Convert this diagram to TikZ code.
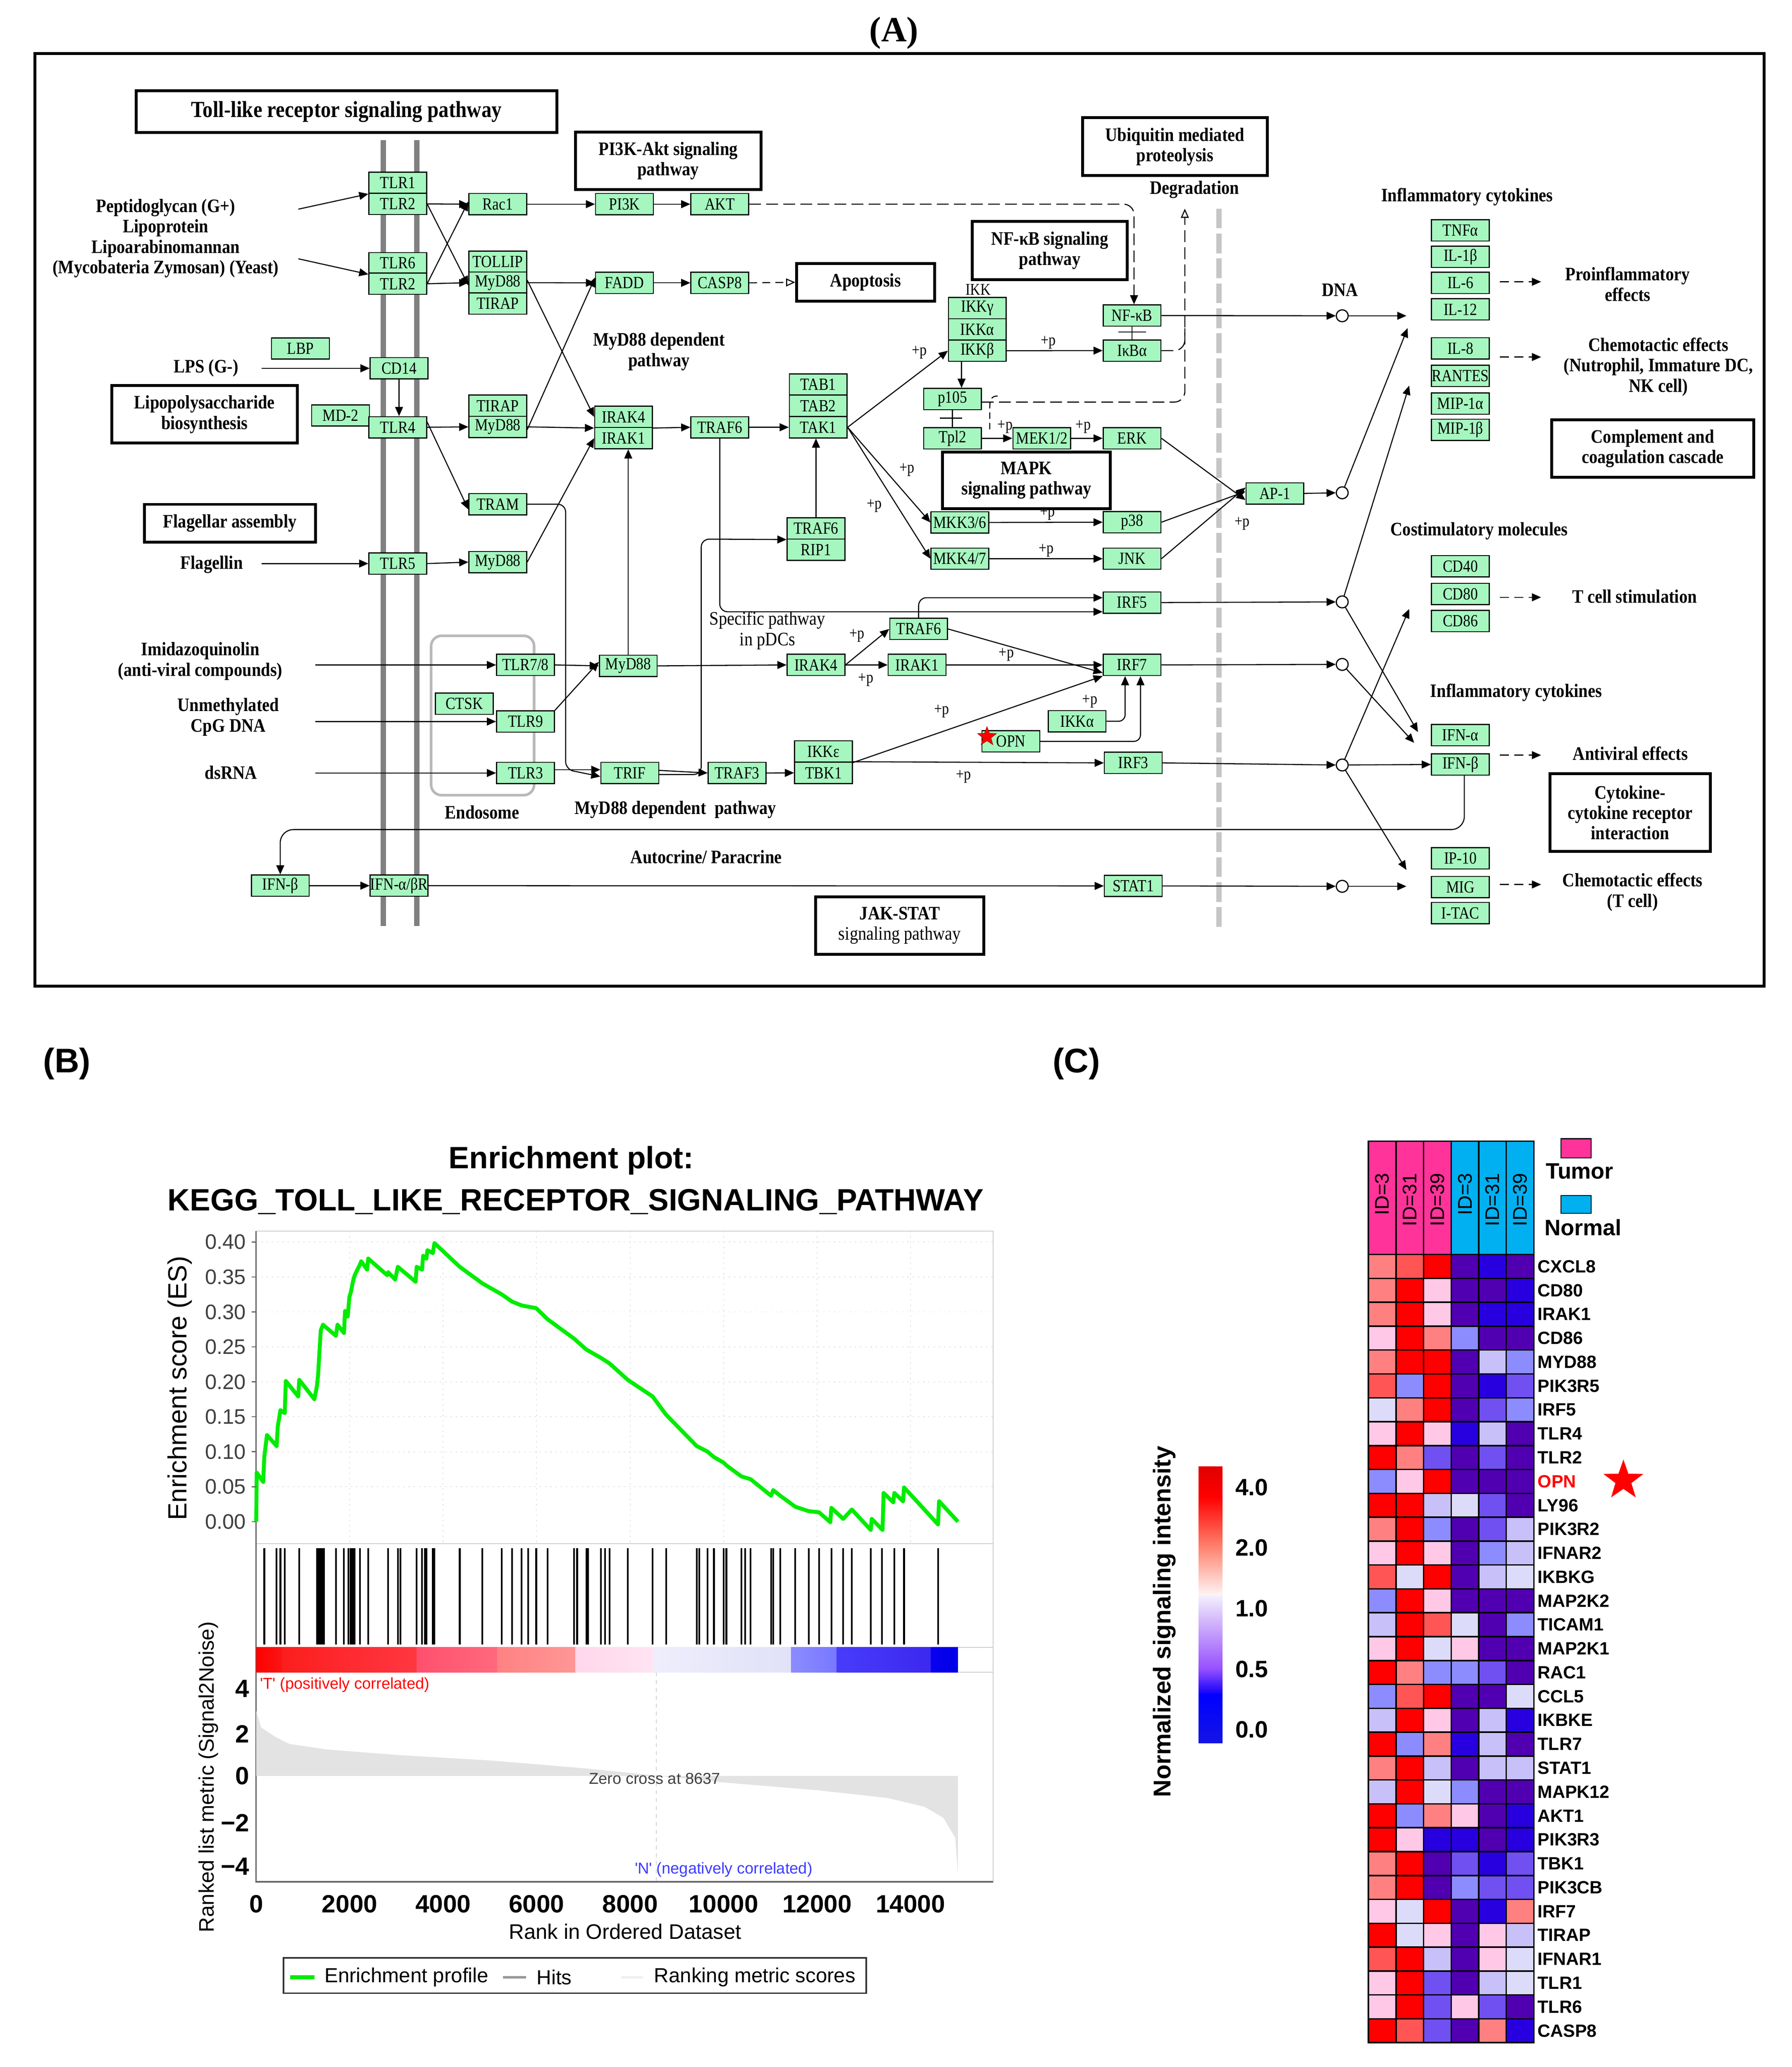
\documentclass[tikz,border=0pt]{standalone}
\usepackage{fontspec}
\setmainfont{Liberation Serif}
\newfontfamily\keggfont[FakeStretch=0.86]{Liberation Serif}
\newfontfamily\lblfont[FakeStretch=0.88]{Liberation Serif}
\newfontfamily\plotfont{Liberation Sans}
\usetikzlibrary{arrows.meta,shapes.geometric}

\definecolor{keggGreen}{RGB}{166,247,191}
\definecolor{esGreen}{RGB}{0,236,0}
\definecolor{tumorPink}{RGB}{255,51,153}
\definecolor{normalCyan}{RGB}{0,176,240}
\definecolor{hmr}{RGB}{255,0,0}
\definecolor{hms}{RGB}{255,85,85}
\definecolor{hmo}{RGB}{255,128,128}
\definecolor{hmp}{RGB}{255,200,230}
\definecolor{hmw}{RGB}{220,220,250}
\definecolor{hml}{RGB}{200,192,248}
\definecolor{hmb}{RGB}{140,140,255}
\definecolor{hmv}{RGB}{112,80,240}
\definecolor{hmd}{RGB}{80,0,176}
\definecolor{hmu}{RGB}{40,0,224}

\tikzset{every picture/.style={line width=0.8pt}}
\tikzset{
	gene/.style={draw=black, fill=keggGreen, line width=0.8pt, minimum width=44pt, minimum height=16.2pt, inner sep=0pt, font=\keggfont\fontsize{13}{13}\selectfont},
	mapbox/.style={draw=black, line width=2.2pt, align=center, inner sep=0pt, font=\lblfont\bfseries\fontsize{14.5}{15.5}\selectfont},
	lbl/.style={align=center, inner sep=0pt, font=\lblfont\bfseries\fontsize{14.5}{15.6}\selectfont},
	plbl/.style={inner sep=0pt, font=\keggfont\fontsize{12.5}{13}\selectfont},
	act/.style={-{Triangle[length=7pt,width=6pt]}},
	hollow/.style={-{Triangle[open,length=7pt,width=6pt]}},
	dna/.style={circle, draw=black, fill=white, line width=0.9pt, minimum size=9pt, inner sep=0pt},
	effect/.style={act, dash pattern=on 7pt off 4pt},
	degr/.style={dash pattern=on 9pt off 4pt, rounded corners=8pt},
	esnum/.style={inner sep=0pt, text=black!75, font=\plotfont\fontsize{16}{16}\selectfont},
	bignum/.style={inner sep=0pt, font=\plotfont\bfseries\fontsize{19}{19}\selectfont},
	tiny/.style={inner sep=0pt, font=\plotfont\fontsize{12}{12}\selectfont},
	glabel/.style={inner sep=0pt, anchor=west, font=\plotfont\bfseries\fontsize{13.5}{14}\selectfont},
}

\begin{document}
\begin{tikzpicture}[x=1pt,y=1pt,yscale=-1,xscale=1]
	\useasboundingbox (0,0) rectangle (1365,1574.2);
	
	%Panel A
	\node[inner sep=0pt, font=\bfseries\fontsize{27}{27}\selectfont] (labA) at (681,25.3) {(A)};
	\draw[line width=2.2pt] (26.6,40.9) rectangle (1344,751);
	\draw[gray, line width=4pt] (292,106.8) -- (292,705.2);
	\draw[gray, line width=4pt] (317.5,106.8) -- (317.5,705.2);
	\draw[gray!45, line width=4pt, dash pattern=on 15pt off 4pt] (928.7,158.9) -- (928.7,706.4);
	\draw[gray!55, line width=2pt, rounded corners=8pt] (328.4,484.2) rectangle (406.9,605.6);
	
	%map boxes
	\node[mapbox, minimum width=320.6pt, minimum height=31.9pt, font=\lblfont\bfseries\fontsize{17.5}{19}\selectfont] (tlrbox) at (263.9,85) {Toll-like receptor signaling pathway};
	\node[mapbox, minimum width=141.3pt, minimum height=43.8pt] (pi3kbox) at (509,122.4) {PI3K-Akt signaling\\pathway};
	\node[mapbox, minimum width=104.9pt, minimum height=28.5pt] (apopbox) at (659.4,215) {Apoptosis};
	\node[mapbox, minimum width=117.8pt, minimum height=44.3pt] (nfkbbox) at (799.7,190.7) {NF-κB signaling\\pathway};
	\node[mapbox, minimum width=140.8pt, minimum height=44pt] (ubqbox) at (895,111.7) {Ubiquitin mediated\\proteolysis};
	\node[mapbox, minimum width=127.7pt, minimum height=43.2pt] (mapkbox) at (781.9,365.8) {MAPK\\signaling pathway};
	\node[mapbox, minimum width=141.2pt, minimum height=43.8pt] (lpsbox) at (155.8,315.6) {Lipopolysaccharide\\biosynthesis};
	\node[mapbox, minimum width=130.1pt, minimum height=28.8pt] (flagbox) at (175.2,398.5) {Flagellar assembly};
	\node[mapbox, minimum width=154.1pt, minimum height=43.6pt] (compbox) at (1259,341.6) {Complement and\\coagulation cascade};
	\node[mapbox, minimum width=122.2pt, minimum height=59.3pt] (cytobox) at (1241.8,618.9) {Cytokine-\\cytokine receptor\\interaction};
	\node[mapbox, minimum width=128.4pt, minimum height=43.9pt] (jakbox) at (685.4,704.9) {JAK-STAT\\{\mdseries signaling pathway}};
	
	%text labels
	\node[lbl] (pgtxt) at (126.2,181.5) {Peptidoglycan (G+)\\Lipoprotein\\Lipoarabinomannan\\(Mycobateria Zymosan) (Yeast)};
	\node[lbl] (lpstxt) at (157,280.2) {LPS (G-)};
	\node[lbl] (fltxt) at (161.3,429.8) {Flagellin};
	\node[lbl] (iqtxt) at (152.6,503.6) {Imidazoquinolin\\(anti-viral compounds)};
	\node[lbl] (cpgtxt) at (173.9,546.1) {Unmethylated\\CpG DNA};
	\node[lbl] (rnatxt) at (176,588.2) {dsRNA};
	\node[lbl] (endotxt) at (367.3,618.5) {Endosome};
	\node[lbl] (myd88txt) at (502,267.8) {MyD88 dependent\\pathway};
	\node[lbl] (myd88txt2) at (514.5,616.5) {MyD88 dependent \ pathway};
	\node[lbl, font=\lblfont\fontsize{14.5}{15.6}\selectfont] (pdctxt) at (584.6,480.2) {Specific pathway\\in pDCs};
	\node[lbl] (autotxt) at (538,652.5) {Autocrine/ Paracrine};
	\node[lbl] (degtxt) at (910,144.3) {Degradation};
	\node[lbl] (dnatxt) at (1020.7,220.7) {DNA};
	\node[lbl] (inftxt) at (1117.6,149.9) {Inflammatory cytokines};
	\node[lbl] (protxt) at (1239.9,216.4) {Proinflammatory\\effects};
	\node[lbl] (chemtxt) at (1263.4,279.4) {Chemotactic effects\\(Nutrophil, Immature DC,\\NK cell)};
	\node[lbl] (costxt) at (1126.8,404.5) {Costimulatory molecules};
	\node[lbl] (tcelltxt) at (1245.2,454.4) {T cell stimulation};
	\node[lbl] (inftxt2) at (1155,527.5) {Inflammatory cytokines};
	\node[lbl] (antitxt) at (1242,573.9) {Antiviral effects};
	\node[lbl] (chemtxt2) at (1243.7,679.5) {Chemotactic effects\\(T cell)};
	\node[plbl] (ikktxt) at (745.2,220.7) {IKK};
	
	%gene products
	\node[gene] (tlr1) at (303,139.2) {TLR1};
	\node[gene] (tlr2a) at (303,155.3) {TLR2};
	\node[gene] (tlr6) at (303,200.4) {TLR6};
	\node[gene] (tlr2b) at (303,216.1) {TLR2};
	\node[gene] (lbp) at (228.9,265.4) {LBP};
	\node[gene] (cd14) at (304,280.5) {CD14};
	\node[gene] (md2) at (259.4,316.4) {MD-2};
	\node[gene] (tlr4) at (303,325.4) {TLR4};
	\node[gene] (tlr5) at (303,429.2) {TLR5};
	\node[gene] (rac1) at (379.2,155.5) {Rac1};
	\node[gene] (tollip) at (379.2,199.4) {TOLLIP};
	\node[gene] (myd88a) at (379.2,215.3) {MyD88};
	\node[gene] (tirapa) at (379.2,231.2) {TIRAP};
	\node[gene] (tirapb) at (379.2,309.0) {TIRAP};
	\node[gene] (myd88b) at (379.2,325.1) {MyD88};
	\node[gene] (tram) at (379.2,384.0) {TRAM};
	\node[gene] (myd88c) at (379.2,428.1) {MyD88};
	\node[gene] (ctsk) at (353.7,536.0) {CTSK};
	\node[gene] (tlr78) at (400.3,506.4) {TLR7/8};
	\node[gene] (tlr9) at (400.3,549.5) {TLR9};
	\node[gene] (tlr3) at (400.3,588.7) {TLR3};
	\node[gene] (pi3k) at (475.7,155.5) {PI3K};
	\node[gene] (akt) at (548.3,155.5) {AKT};
	\node[gene] (fadd) at (475.7,215.4) {FADD};
	\node[gene] (casp8) at (548.3,215.4) {CASP8};
	\node[gene] (irak4) at (475,317.5) {IRAK4};
	\node[gene] (irak1) at (475,333.7) {IRAK1};
	\node[gene] (traf6a) at (548.3,325.4) {TRAF6};
	\node[gene] (tab1) at (623.3,292.8) {TAB1};
	\node[gene] (tab2) at (623.3,309.1) {TAB2};
	\node[gene] (tak1) at (623.3,325.4) {TAK1};
	\node[gene] (ikkg) at (744.5,234.7) {IKKγ};
	\node[gene] (ikka) at (744.5,250.9) {IKKα};
	\node[gene] (ikkb) at (744.5,267.1) {IKKβ};
	\node[gene] (nfkb) at (862.4,240.3) {NF-κB};
	\node[gene] (ikba) at (862.4,267.0) {IκBα};
	\node[gene] (p105) at (725.6,303.9) {p105};
	\node[gene] (tpl2) at (725.6,333.8) {Tpl2};
	\node[gene] (mek) at (793.6,333.8) {MEK1/2};
	\node[gene] (erk) at (862.4,333.8) {ERK};
	\node[gene] (mkk36) at (731.2,397.9) {MKK3/6};
	\node[gene] (p38) at (862.4,397.7) {p38};
	\node[gene] (mkk47) at (731.2,425.5) {MKK4/7};
	\node[gene] (jnk) at (862.4,425.5) {JNK};
	\node[gene] (ap1) at (971.2,375.8) {AP-1};
	\node[gene] (traf6b) at (621.6,402.4) {TRAF6};
	\node[gene] (rip1) at (621.6,418.7) {RIP1};
	\node[gene] (irf5) at (862.4,458.9) {IRF5};
	\node[gene] (myd88d) at (478.6,507.1) {MyD88};
	\node[gene] (irak4b) at (621.6,506.4) {IRAK4};
	\node[gene] (traf6c) at (699.8,479.0) {TRAF6};
	\node[gene] (irak1b) at (698.6,506.4) {IRAK1};
	\node[gene] (irf7) at (862.4,506.4) {IRF7};
	\node[gene] (ikka2) at (820.5,549.3) {IKKα};
	\node[gene] (opn) at (770.1,564.6) {OPN};
	\node[star, star points=5, star point ratio=2.4, fill=red, draw=red!70!black, line width=0.4pt, minimum size=15pt, inner sep=0pt] (opnstarA) at (751.9,561) {};
	\node[gene] (trif) at (479.8,588.7) {TRIF};
	\node[gene] (traf3) at (561.5,588.7) {TRAF3};
	\node[gene] (ikke) at (627.3,572.3) {IKKε};
	\node[gene] (tbk1) at (627.3,588.6) {TBK1};
	\node[gene] (irf3) at (863.3,581.0) {IRF3};
	\node[gene] (ifnb1) at (213.5,674.5) {IFN-β};
	\node[gene] (ifnr) at (304,674.5) {IFN-α/βR};
	\node[gene] (stat1) at (863.3,674.7) {STAT1};
	\foreach \nm/\yy/\txt in {tnfa/175.5/TNFα, il1b/195.6/IL-1β, il6/215.4/IL-6, il12/235.6/IL-12, il8/265.3/IL-8, rantes/286.2/RANTES, mip1a/307.4/MIP-1α, mip1b/327.3/MIP-1β, cd40/431.2/CD40, cd80/452.3/CD80, cd86/472.9/CD86, ifna/559.9/IFN-α, ifnb2/582.2/IFN-β, ip10/653.7/IP-10, mig/675.5/MIG, itac/695.4/I-TAC}
		\node[gene] (\nm) at (1112.5,\yy) {\txt};
	
	\node[dna] (dna1) at (1022.5,240.5) {};
	\node[dna] (dna2) at (1022.5,375.3) {};
	\node[dna] (dna3) at (1022.5,458.4) {};
	\node[dna] (dna4) at (1022.5,506.0) {};
	\node[dna] (dna5) at (1022.5,582.6) {};
	\node[dna] (dna6) at (1022.5,675.0) {};
	
	\foreach \px/\py [count=\i] in {700.4/268.3, 798.5/260.7, 765.7/325.1, 825.2/325.1, 691/357.7, 666.1/385.2, 797.9/391.1, 797/419.2, 652.9/484.2, 766.6/498.5, 659.6/517.7, 830.2/534.1, 717.3/541.8, 734.1/591.5, 946.3/398.8}
		\node[plbl] (plusp\i) at (\px,\py) {+p};
	
	%free ends
	\coordinate (inPG) at (227.3,159.3);
	\coordinate (inZY) at (227.3,197.1);
	\coordinate (inLPS) at (199.2,280.5);
	\coordinate (inFL) at (199.2,429.2);
	\coordinate (inIQ) at (240.2,506.4);
	\coordinate (inCPG) at (240.2,549.5);
	\coordinate (inRNA) at (240.2,588.7);
	\coordinate (degtip) at (902.6,158.9);
	\coordinate (ikkbS) at ([xshift=-12pt]ikkb.south);
	\coordinate (cyA) at (1071.4,240.5);
	\coordinate (cyB) at (1072.3,249.9);
	\coordinate (cyC) at (1073.5,293.7);
	\coordinate (cyD) at (1073.5,463.8);
	\coordinate (cyE) at (1080.2,557.5);
	\coordinate (cyF) at (1077.3,565.7);
	\coordinate (cyG) at (1071.4,662.5);
	\coordinate (cyH) at (1071.4,675.0);
	
	%connectors
	\draw[act] (inPG) -- (tlr1.south west);
	\draw[act] (inZY) -- (tlr6.south west);
	\draw[act] (inLPS) -- (cd14.west);
	\draw[act] (inFL) -- (tlr5.west);
	\draw[act] (inIQ) -- (tlr78.west);
	\draw[act] (inCPG) -- (tlr9.west);
	\draw[act] (inRNA) -- (tlr3.west);
	\draw[act] (cd14.south) -- (cd14.south |- tlr4.north);
	\draw[act] (tlr2a.east) -- (rac1.west);
	\draw[act] (tlr2a.east) -- ([yshift=2pt]myd88a.west);
	\draw[act] (tlr2b.east) -- ([yshift=-2pt]rac1.west);
	\draw[act] (tlr2b.east) -- (myd88a.west);
	\draw[act] (rac1.east) -- (pi3k.west);
	\draw[act] (pi3k.east) -- (akt.west);
	\draw[act] (myd88a.east) -- (fadd.west);
	\draw[act] (fadd.east) -- (casp8.west);
	\draw[hollow, dash pattern=on 6pt off 4pt] (casp8.east) -- (apopbox.west);
	\draw[act, dash pattern=on 9pt off 4pt, rounded corners=8pt] (akt.east) -| ([xshift=1.5pt]nfkb.north);
	\draw[act] ([yshift=-2pt]myd88a.east) -- (irak4.west);
	\draw[act] (tlr4.east) -- (myd88b.west);
	\draw[act] ([yshift=-4pt]tlr4.east) -- ([yshift=4pt]tram.west);
	\draw[act] (myd88b.east) -- (irak4.south west);
	\draw[act] ([yshift=2.2pt]myd88b.east) -- ([yshift=-4pt]fadd.west);
	\draw[act] (tlr5.east) -- (myd88c.west);
	\draw[act] (myd88c.east) -- (irak1.west);
	\draw[act, rounded corners=6pt] (tram.east) -| (430.9,586) -- ([yshift=2.7pt]trif.west);
	\draw[act] (irak4.south east) -- (traf6a.west);
	\draw[act] (traf6a.east) -- (tak1.west);
	\draw[act] (tak1.east) -- (ikkb.west);
	\draw[act] (tak1.east) -- (mkk36.west);
	\draw[act] (tak1.east) -- (mkk47.west);
	\draw[act] (ikkbS) -- (ikkbS |- p105.north);
	\draw[act] (ikkb.east) -- (ikba.west);
	\draw (nfkb.south) -- (ikba.north);
	\draw (852,252.8) -- (873,252.8);
	\draw (p105.south) -- (tpl2.north);
	\draw (716,318.4) -- (733,318.4);
	\draw[act] (tpl2.east) -- (mek.west);
	\draw[act] (mek.east) -- (erk.west);
	\draw[act] (mkk36.east) -- (p38.west);
	\draw[act] (mkk47.east) -- (jnk.west);
	\draw[act] (erk.east) -- ([yshift=5pt]ap1.west);
	\draw[act] (p38.east) -- ([yshift=-1.5pt]ap1.west);
	\draw[act] (jnk.east) -- ([yshift=-4.5pt]ap1.west);
	\draw[hollow, degr] ([yshift=2.3pt]p105.east) -| (degtip);
	\draw[degr] (ikba.east) -| (902.6,250);
	\draw[dash pattern=on 5pt off 3pt] (760,301.6) .. controls (754,301.6) and (754,306) .. (754,312) -- (754,328);
	\draw[act] (nfkb.east) -- (dna1.west);
	\draw[act] (dna1) -- (cyA);
	\draw[act] (ap1.east) -- (dna2.west);
	\draw[act] (dna2) -- (cyB);
	\draw[act, rounded corners=6pt] (traf6a.south) |- ([yshift=7pt]irf5.west);
	\draw[act, rounded corners=6pt] (traf6c.north) |- ([yshift=-3.7pt]irf5.west);
	\draw[act, rounded corners=6pt] ([yshift=1.2pt]trif.east) -| (534.2,410.6) -- (traf6b.south west);
	\draw[act] ([yshift=-2pt]trif.east) -- (traf3.west);
	\draw[act] (traf3.east) -- (tbk1.west);
	\draw[act] (traf6b.north) -- (traf6b.north |- tak1.south);
	\draw[act] (tlr78.east) -- (myd88d.west);
	\draw[act] (tlr9.north east) -- ([yshift=-3pt]myd88d.west);
	\draw[act] ([yshift=-2.5pt]tlr3.east) -- ([yshift=-2.5pt]trif.west);
	\draw[act] (myd88d.north) -- (myd88d.north |- irak1.south);
	\draw[act] (myd88d.east) -- (irak4b.west);
	\draw[act] (irak4b.east) -- (traf6c.west);
	\draw[act] (irak4b.east) -- (irak1b.west);
	\draw[act] (irak1b.east) -- (irf7.west);
	\draw[act] (traf6c.east) -- ([yshift=6pt]irf7.west);
	\draw[act] (ikke.south east) -- (irf7.south west);
	\draw[act] (tbk1.north east) -- (irf3.west);
	\draw[act, rounded corners=5pt] (ikka2.east) -| ([xshift=-5.3pt]irf7.south);
	\draw[act, rounded corners=5pt] (opn.east) -| ([xshift=6.4pt]irf7.south);
	\draw[act] (irf5.east) -- (dna3.west);
	\draw[act] (irf7.east) -- (dna4.west);
	\draw[act] (irf3.east) -- (dna5.west);
	\draw[act] (stat1.east) -- (dna6.west);
	\draw[act] (dna3) -- (cyC);
	\draw[act] (dna3) -- (cyE);
	\draw[act] (dna4) -- (cyF);
	\draw[act] (dna5) -- (cyD);
	\draw[act] (dna5) -- (ifnb2.west);
	\draw[act] (dna5) -- (cyG);
	\draw[act] (dna6) -- (cyH);
	\draw[act, rounded corners=10pt] ([xshift=3pt]ifnb2.south) |- (213.5,631.8) -- (ifnb1.north);
	\draw[act] (ifnb1.east) -- (ifnr.west);
	\draw[act] (ifnr.east) -- (stat1.west);
	\foreach \ey in {214.6,271.9,454.9,575.1,673.6}
		\draw[effect] (1142.6,\ey) -- (1174,\ey);
	
	%Panel B
	\node[inner sep=0pt, font=\plotfont\bfseries\fontsize{26}{26}\selectfont] (labB) at (51,810) {(B)};
	\begin{scope}[shift={(116.4,857.7)},xscale=0.41026,yscale=0.42002]
		\node[inner sep=0pt, font=\plotfont\bfseries\fontsize{23.5}{24}\selectfont] (esTitle1) at (777,62) {Enrichment plot:};
		\node[inner sep=0pt, font=\plotfont\bfseries\fontsize{23.5}{24}\selectfont] (esTitle2) at (785,137) {KEGG\_TOLL\_LIKE\_RECEPTOR\_SIGNALING\_PATHWAY};
		\foreach \v in {1,...,8}
			\draw[gray!25, line width=0.6pt, dash pattern=on 1pt off 3pt] (192,{717-63.375*\v}) -- (1560,{717-63.375*\v});
		\foreach \k in {1,...,7}
			\draw[gray!25, line width=0.6pt, dash pattern=on 1pt off 3pt] ({192+173.57*\k},190) -- ({192+173.57*\k},757);
		\draw[gray!40, line width=0.6pt] (192,190) rectangle (1560,1370);
		\draw[gray!40, line width=0.6pt] (192,757) -- (1560,757);
		\draw[gray!40, line width=0.6pt] (192,945) -- (1560,945);
		\draw[gray!40, line width=0.6pt] (192,990) -- (1560,990);
		\draw[black!60, line width=1pt] (192,190) -- (192,1370) -- (1560,1370);
		%ranked metric
		\fill[gray!22] (192,1178) -- (192,1060) -- (201,1090) -- (227,1107) -- (253,1120) -- (322,1130) -- (452,1140) -- (626,1150) -- (799,1164) -- (941,1178) -- (1060,1190) -- (1234,1204) -- (1364,1218) -- (1433,1234) -- (1468,1254) -- (1490,1290) -- (1495,1355) -- (1495,1178) -- cycle;
		\draw[gray!35, dash pattern=on 3pt off 3pt] (935,990) -- (935,1370);
		%colour bar
		\foreach \xa/\xb/\ca/\cb in {192/240/{rgb,255:red,255;green,0;blue,0}/{rgb,255:red,250;green,20;blue,20}, 240/490/{rgb,255:red,252;green,30;blue,30}/{rgb,255:red,255;green,55;blue,65}, 490/640/{rgb,255:red,255;green,80;blue,110}/{rgb,255:red,255;green,105;blue,125}, 640/785/{rgb,255:red,255;green,130;blue,130}/{rgb,255:red,255;green,150;blue,150}, 785/930/{rgb,255:red,255;green,215;blue,235}/{rgb,255:red,255;green,228;blue,242}, 930/1185/{rgb,255:red,238;green,238;blue,252}/{rgb,255:red,225;green,225;blue,248}, 1185/1270/{rgb,255:red,140;green,140;blue,255}/{rgb,255:red,120;green,120;blue,255}, 1270/1445/{rgb,255:red,72;green,60;blue,250}/{rgb,255:red,60;green,40;blue,240}, 1445/1495/{rgb,255:red,10;green,0;blue,240}/{rgb,255:red,0;green,0;blue,230}}
			\shade[left color=\ca, right color=\cb] (\xa,945) rectangle (\xb,990);
		%hits
		\foreach \h in {207,230,237,245,272,305,308,310,312,315,318,340,355,363,367,370,373,375,385,400,437,455,460,490,500,505,508,520,523,570,612,648,667,685,697,712,733,782,788,805,808,832,840,848,882,928,953,1010,1015,1030,1042,1060,1065,1093,1100,1110,1148,1152,1165,1193,1218,1237,1260,1282,1298,1333,1354,1377,1395,1458}
			\draw[line width=1.3pt] (\h,765) -- (\h,940);
		%enrichment score
		\draw[esGreen, line width=3pt, line join=round] (192,717) -- (193,628) -- (205,645) -- (207,600) -- (212,560) -- (230,580) -- (232,545) -- (237,515) -- (245,520) -- (247,462) -- (270,490) -- (272,460) -- (300,495) -- (305,470) -- (307,450) -- (310,400) -- (312,370) -- (316,360) -- (340,380) -- (343,360) -- (355,375) -- (357,335) -- (362,345) -- (365,310) -- (368,300) -- (372,280) -- (375,270) -- (385,250) -- (387,245) -- (398,260) -- (400,240) -- (435,270) -- (437,265) -- (450,278) -- (455,255) -- (488,282) -- (490,255) -- (500,260) -- (502,235) -- (508,240) -- (510,225) -- (520,230) -- (523,212) -- (570,255) -- (612,285) -- (648,305) -- (667,318) -- (685,325) -- (712,330) -- (733,350) -- (782,385) -- (805,405) -- (832,420) -- (848,430) -- (882,460) -- (928,490) -- (953,523) -- (1010,580) -- (1030,590) -- (1042,600) -- (1060,610) -- (1065,615) -- (1093,635) -- (1110,640) -- (1148,670) -- (1152,660) -- (1165,670) -- (1193,690) -- (1218,698) -- (1237,700) -- (1258,718) -- (1260,692) -- (1282,712) -- (1298,695) -- (1333,732) -- (1335,712) -- (1355,732) -- (1357,665) -- (1375,682) -- (1377,665) -- (1393,680) -- (1395,655) -- (1458,722) -- (1460,680) -- (1495,717);
		%axes text
		\foreach \v/\lab in {0/0.00,1/0.05,2/0.10,3/0.15,4/0.20,5/0.25,6/0.30,7/0.35,8/0.40}{
			\draw[black!60] (184,{717-63.375*\v}) -- (192,{717-63.375*\v});
			\node[esnum, anchor=east] (esy\v) at (174,{717-63.375*\v}) {\lab};
		}
		\foreach \yy/\lab [count=\i] in {1020/4,1102/2,1178/0,1263/−2,1342/−4}
			\node[bignum, anchor=east] (rmy\i) at (180,\yy) {\lab};
		\foreach \lab [count=\k from 0] in {0,2000,4000,6000,8000,10000,12000,14000}
			\node[bignum] (rkx\k) at ({192+173.57*\k},1410) {\lab};
		\node[inner sep=0pt, font=\plotfont\fontsize{16}{16}\selectfont] (rankLab) at (877,1460) {Rank in Ordered Dataset};
		\node[inner sep=0pt, rotate=90, font=\plotfont\fontsize{20}{20}\selectfont] (esLab) at (50,475) {Enrichment score (ES)};
		\node[inner sep=0pt, rotate=90, font=\plotfont\fontsize{16}{16}\selectfont] (rmLab) at (103,1180) {Ranked list metric (Signal2Noise)};
		\node[tiny, anchor=west, text=red] (posLab) at (198,1013) {\textquotesingle T\textquotesingle\ (positively correlated)};
		\node[tiny, text=black!75] (zeroLab) at (932,1183) {Zero cross at 8637};
		\node[tiny, text={rgb,255:red,60;green,60;blue,255}] (negLab) at (1060,1348) {\textquotesingle N\textquotesingle\ (negatively correlated)};
		%legend
		\draw[black!80, line width=1.2pt] (243,1508) rectangle (1325,1572);
		\draw[esGreen, line width=3pt] (255,1543) -- (300,1543);
		\node[inner sep=0pt, anchor=west, font=\plotfont\fontsize{15.5}{16}\selectfont] (legES) at (318,1543) {Enrichment profile};
		\draw[gray!80, line width=2pt] (650,1543) -- (693,1543);
		\node[inner sep=0pt, anchor=west, font=\plotfont\fontsize{15.5}{16}\selectfont] (legHit) at (712,1543) {Hits};
		\draw[gray!12, line width=2pt] (870,1543) -- (910,1543);
		\node[inner sep=0pt, anchor=west, font=\plotfont\fontsize{15.5}{16}\selectfont] (legRank) at (930,1543) {Ranking metric scores};
	\end{scope}
	
	%Panel C
	\node[inner sep=0pt, font=\plotfont\bfseries\fontsize{26}{26}\selectfont] (labC) at (820,810) {(C)};
	\foreach \lab/\col [count=\k from 0] in {ID=3/tumorPink, ID=31/tumorPink, ID=39/tumorPink, ID=3/normalCyan, ID=31/normalCyan, ID=39/normalCyan}{
		\draw[fill=\col, line width=1.1pt] ({1042.5+21*\k},869.1) rectangle ++(21,86.3);
		\node[inner sep=0pt, rotate=90, anchor=east, font=\plotfont\fontsize{15}{15}\selectfont] (hd\k) at ({1053+21*\k},893) {\lab};
	}
	\draw[fill=tumorPink, line width=0.8pt] (1189.2,867.3) rectangle (1212.1,881.9);
	\node[inner sep=0pt, font=\plotfont\bfseries\fontsize{17}{17}\selectfont] (tumorLab) at (1203.3,892) {Tumor};
	\draw[fill=normalCyan, line width=0.8pt] (1189.2,910.5) rectangle (1212.1,924);
	\node[inner sep=0pt, font=\plotfont\bfseries\fontsize{17}{17}\selectfont] (normalLab) at (1206,934.7) {Normal};
	\foreach \gene/\gc/\cols [count=\r from 0] in {CXCL8/black/{o,s,r,d,u,d}, CD80/black/{o,r,p,d,d,u}, IRAK1/black/{o,r,p,d,u,u}, CD86/black/{p,r,o,b,d,d}, MYD88/black/{o,r,r,d,l,b}, PIK3R5/black/{s,b,r,d,u,v}, IRF5/black/{w,o,r,d,v,b}, TLR4/black/{p,r,p,u,l,d}, TLR2/black/{r,o,v,d,v,d}, OPN/red/{b,p,r,d,d,d}, LY96/black/{r,r,l,w,v,d}, PIK3R2/black/{o,r,b,d,v,l}, IFNAR2/black/{p,r,p,d,b,l}, IKBKG/black/{s,w,r,d,l,w}, MAP2K2/black/{b,r,p,d,d,d}, TICAM1/black/{l,r,s,w,d,b}, MAP2K1/black/{p,r,w,p,d,d}, RAC1/black/{r,o,b,b,v,d}, CCL5/black/{b,s,r,d,d,w}, IKBKE/black/{l,r,p,d,l,u}, TLR7/black/{r,b,o,u,l,d}, STAT1/black/{o,r,l,d,l,l}, MAPK12/black/{l,r,w,b,d,d}, AKT1/black/{r,b,o,p,d,u}, PIK3R3/black/{r,p,u,u,d,u}, TBK1/black/{o,r,d,v,u,v}, PIK3CB/black/{o,r,d,b,v,v}, IRF7/black/{p,w,r,d,u,o}, TIRAP/black/{r,w,p,d,p,l}, IFNAR1/black/{s,r,l,d,p,w}, TLR1/black/{p,r,v,d,l,w}, TLR6/black/{p,r,v,p,v,d}, CASP8/black/{r,s,v,d,o,u}}{
		\foreach \c [count=\k from 0] in \cols
			\draw[fill=hm\c, line width=1.1pt] ({1042.5+21*\k},{955.4+18.19*\r}) rectangle ++(21,18.19);
		\node[glabel, text=\gc] (gene\r) at (1171,{964.5+18.19*\r}) {\gene};
	}
	\node[star, star points=5, star point ratio=2.5, fill=red, minimum size=32pt, inner sep=0pt] (opnstarC) at (1236.7,1127.5) {};
	%colour key
	\shade[top color={rgb,255:red,225;green,0;blue,0}, bottom color={rgb,255:red,255;green,0;blue,0}] (913.1,1116.8) rectangle (931.3,1140);
	\shade[top color={rgb,255:red,255;green,0;blue,0}, bottom color={rgb,255:red,255;green,130;blue,110}] (913.1,1140) rectangle (931.3,1178);
	\shade[top color={rgb,255:red,255;green,130;blue,110}, bottom color={rgb,255:red,255;green,245;blue,245}] (913.1,1178) rectangle (931.3,1215);
	\shade[top color={rgb,255:red,245;green,240;blue,255}, bottom color={rgb,255:red,215;green,190;blue,250}] (913.1,1215) rectangle (931.3,1232);
	\shade[top color={rgb,255:red,215;green,190;blue,250}, bottom color={rgb,255:red,150;green,80;blue,255}] (913.1,1232) rectangle (931.3,1271);
	\shade[top color={rgb,255:red,150;green,80;blue,255}, bottom color={rgb,255:red,20;green,0;blue,250}] (913.1,1271) rectangle (931.3,1290);
	\shade[top color={rgb,255:red,0;green,0;blue,255}, bottom color={rgb,255:red,20;green,20;blue,230}] (913.1,1290) rectangle (931.3,1327.5);
	\foreach \yy/\lab [count=\i] in {1132.6/4.0,1178.8/2.0,1224.9/1.0,1271.1/0.5,1317.2/0.0}
		\node[inner sep=0pt, anchor=west, font=\plotfont\bfseries\fontsize{18}{18}\selectfont] (cbn\i) at (940.7,\yy) {\lab};
	\node[inner sep=0pt, rotate=90, font=\plotfont\bfseries\fontsize{18.5}{19}\selectfont] (cbLab) at (887,1235) {Normalized signaling intensity};
\end{tikzpicture}
\end{document}
